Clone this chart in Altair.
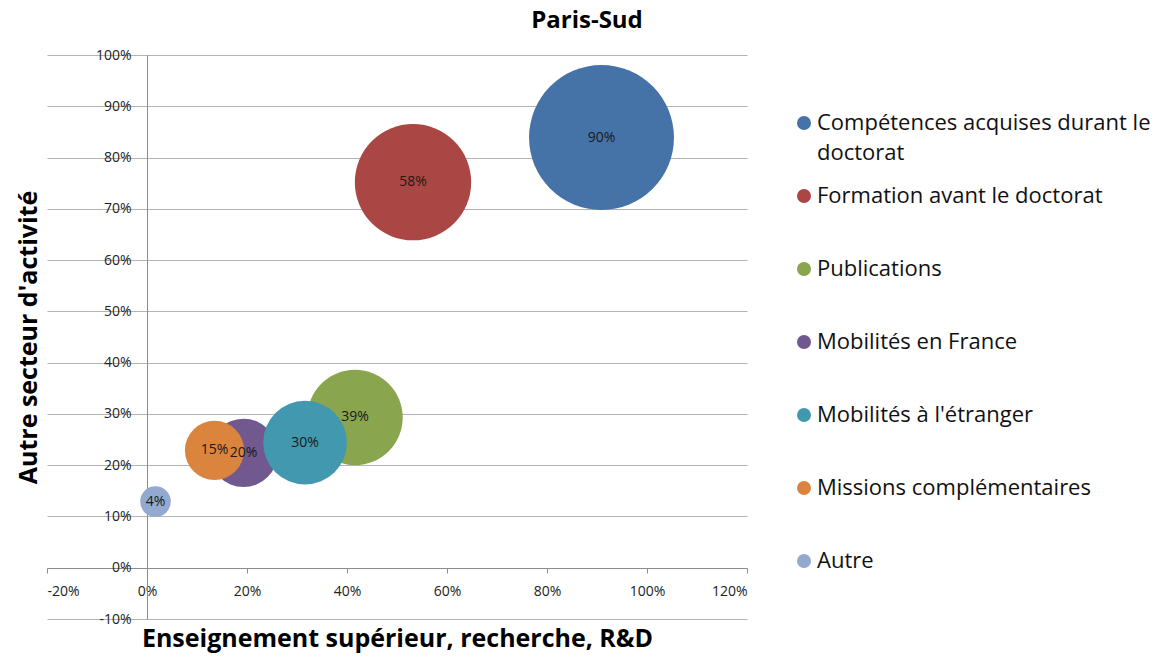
import altair as alt
import pandas as pd

categories = [
    "Compétences acquises durant le doctorat",
    "Formation avant le doctorat",
    "Publications",
    "Mobilités en France",
    "Mobilités à l'étranger",
    "Missions complémentaires",
    "Autre",
]
x_values = [0.909, 0.532, 0.416, 0.193, 0.316, 0.135, 0.017]
y_values = [0.839, 0.752, 0.293, 0.224, 0.244, 0.229, 0.129]
bubble_values = [0.90, 0.58, 0.39, 0.20, 0.30, 0.15, 0.04]
colors = ["#4572A7", "#AA4643", "#89A54E", "#71588F", "#4198AF", "#DB843D", "#93A9CF"]

x_ticks = [-0.2, 0.0, 0.2, 0.4, 0.6, 0.8, 1.0, 1.2]
y_ticks = [-0.1, 0.0, 0.1, 0.2, 0.3, 0.4, 0.5, 0.6, 0.7, 0.8, 0.9, 1.0]

df = pd.DataFrame({
    "cat": categories,
    "x": x_values,
    "y": y_values,
    "v": bubble_values,
    "order": list(range(len(categories))),
})

FONT = "Open Sans"
W, H = 700, 564
MINUS_FIX = "replace(datum.label, '\u2212', '-')"

x_enc = alt.X(
    "x:Q",
    scale=alt.Scale(domain=[-0.2, 1.2], nice=False, zero=False),
    axis=alt.Axis(
        values=x_ticks, format=".0%", labelExpr=MINUS_FIX, grid=False, offset=-51,
        tickSize=5, tickColor="#8C8C8C", domainColor="#8C8C8C",
        labelPadding=11, labelFont=FONT, labelFontSize=14, labelColor="#222222",
        title="Enseignement supérieur, recherche, R&D", titleFont=FONT,
        titleFontSize=25, titleFontWeight="bold", titleColor="#000000",
        titlePadding=28,
    ),
)
y_enc = alt.Y(
    "y:Q",
    scale=alt.Scale(domain=[-0.1, 1.0], nice=False, zero=False),
    axis=alt.Axis(
        values=y_ticks, format=".0%", labelExpr=MINUS_FIX, grid=True, gridColor="#B3B3B3",
        offset=-100, ticks=False, tickSize=0, domainColor="#8C8C8C",
        labelPadding=16, labelFont=FONT, labelFontSize=14, labelColor="#222222",
        title="Autre secteur d'activité", titleFont=FONT, titleFontSize=25,
        titleFontWeight="bold", titleColor="#000000", titlePadding=54,
    ),
)

bubbles = alt.Chart(df).mark_point(filled=True, opacity=1, shape="circle", strokeWidth=0).encode(
    x=x_enc,
    y=y_enc,
    size=alt.Size("v:Q", scale=alt.Scale(domain=[0, 0.9], range=[0, 21000]), legend=None),
    color=alt.Color(
        "cat:N",
        scale=alt.Scale(domain=categories, range=colors),
        legend=alt.Legend(
            title=None, orient="none", legendX=746, legendY=57,
            symbolType="circle", symbolSize=196, symbolStrokeWidth=0, symbolOpacity=1,
            labelFont=FONT, labelFontSize=22, labelColor="#111111", labelOffset=2,
            labelLimit=500, rowPadding=21, padding=0, gridAlign="all",
            labelExpr="datum.label == 'Compétences acquises durant le doctorat' ? ['Compétences acquises durant le', 'doctorat'] : datum.label",
        ),
    ),
    order=alt.Order("order:Q"),
)

labels = alt.Chart(df).mark_text(font=FONT, fontSize=14, color="#1A1A1A").encode(
    x=alt.X("x:Q"),
    y=alt.Y("y:Q"),
    text=alt.Text("v:Q", format=".0%"),
)

chart = alt.layer(bubbles, labels).properties(
    width=W,
    height=H,
    title=alt.TitleParams("Paris-Sud", font=FONT, fontSize=24, fontWeight="bold",
                          anchor="middle", frame="group", dx=190, offset=15, color="#000000"),
    autosize=alt.AutoSizeParams(type="none"),
    padding={"left": 39, "top": 47, "right": 415, "bottom": 37},
).configure(
    style={"guide-label": {"lineHeight": 30}},
    view=alt.ViewConfig(stroke="transparent", strokeWidth=0, strokeOpacity=0),
)

chart.save("out.html", embed_options={"renderer": "svg", "actions": False})
